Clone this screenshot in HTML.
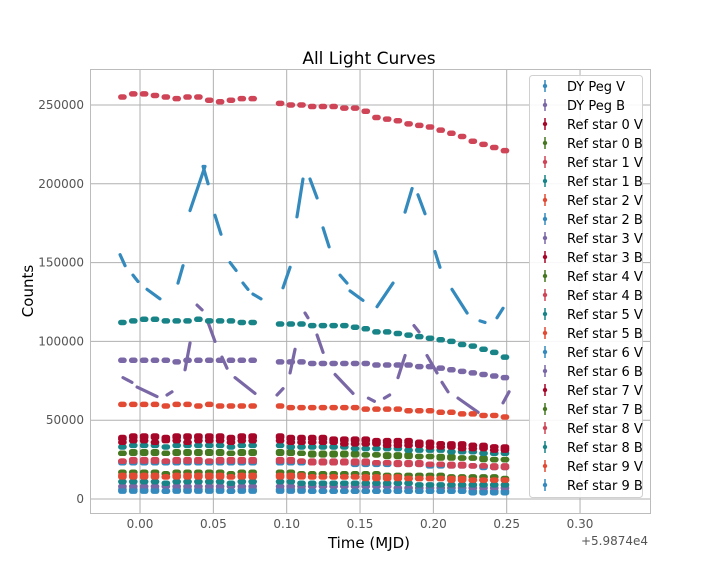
<!DOCTYPE html>
<html><head><meta charset="utf-8"><style>
html,body{margin:0;padding:0;background:#fff;}
svg{display:block;font-family:"DejaVu Sans","Liberation Sans",sans-serif;}
</style></head><body>
<svg id="chart" width="720" height="576" viewBox="0 0 720 576">
<rect x="0" y="0" width="720" height="576" fill="#fff"/>
<text x="369" y="64" text-anchor="middle" font-size="17" fill="#000">All Light Curves</text>
<g id="grid"></g>
<g id="marks"></g>
<rect x="90.5" y="69.5" width="560" height="444" fill="none" stroke="#bcbcbc" stroke-width="1"/>
<g id="axes"></g>
<text x="369" y="548" text-anchor="middle" font-size="15" fill="#000">Time (MJD)</text>
<text x="648" y="545" text-anchor="end" font-size="12" fill="#555">+5.9874e4</text>
<text transform="translate(33,291) rotate(-90)" text-anchor="middle" font-size="15" fill="#000">Counts</text>
<g id="legend"></g>
</svg>
<script>
const xTicks = [0.00, 0.05, 0.10, 0.15, 0.20, 0.25, 0.30];
const xTickLabels = ["0.00","0.05","0.10","0.15","0.20","0.25","0.30"];
const yTicks = [0, 50000, 100000, 150000, 200000, 250000];
const yTickLabels = ["0","50000","100000","150000","200000","250000"];
const segTimes = [-0.012,-0.0046,0.0028,0.0102,0.0176,0.025,0.0324,0.0398,0.0472,0.0546,0.062,0.0694,0.0768,
 0.0955,0.1028,0.1101,0.1174,0.1247,0.132,0.1393,0.1466,0.1539,0.1612,0.1685,0.1758,0.1831,0.1904,0.1977,0.205,0.2123,0.2196,0.2269,0.2342,0.2415,0.2488];
const seriesNames = ["DY Peg V","DY Peg B","Ref star 0 V","Ref star 0 B","Ref star 1 V","Ref star 1 B","Ref star 2 V","Ref star 2 B","Ref star 3 V","Ref star 3 B","Ref star 4 V","Ref star 4 B","Ref star 5 V","Ref star 5 B","Ref star 6 V","Ref star 6 B","Ref star 7 V","Ref star 7 B","Ref star 8 V","Ref star 8 B","Ref star 9 V","Ref star 9 B"];
const palette = ["#348ABD","#7A68A6","#A60628","#467821","#CF4457","#188487","#E24A33"];
// DY Peg V segments (start time, end time, start counts k, end counts k)
const dyVt0 = [-0.0136,-0.0048,0.0048,0.0259,0.0341,0.043,0.0511,0.0614,0.0702,0.077,0.0975,0.107,0.1159,0.1248,0.1364,0.1432,0.1616,0.1807,0.1895,0.2011,0.2127,0.2318,0.2434];
const dyVt1 = [-0.0102,-0.0014,0.0136,0.0293,0.0443,0.0464,0.0552,0.0655,0.0736,0.0825,0.1023,0.1111,0.1207,0.1289,0.1411,0.152,0.1725,0.1855,0.1943,0.2045,0.223,0.2352,0.2475];
const dyVv0 = [155,142,133,137,183,211,180,150,137,130,134,179,203,172,142,132,122,182,193,157,133,113,115];
const dyVv1 = [148,138,127,148,211,200,168,145,133,127,147,203,191,160,137,126,137,197,181,147,118,112,121];
// DY Peg B segments
const dyBt0 = [-0.0116,-0.0020,0.0184,0.0307,0.0389,0.0464,0.0559,0.0648,0.0934,0.1023,0.1125,0.1207,0.1330,0.1557,0.1666,0.1759,0.1868,0.1957,0.2059,0.2168,0.2475];
const dyBt1 = [-0.0055,0.0116,0.0218,0.0341,0.0423,0.0511,0.0593,0.0784,0.0975,0.1057,0.1145,0.1248,0.1452,0.1598,0.1702,0.1807,0.1902,0.2025,0.2100,0.2305,0.2516];
const dyBv0 = [77,71,66,82,123,112,90,77,66,80,118,104,79,64,64,77,110,91,74,64,61];
const dyBv1 = [74,65,68,99,120,100,83,67,70,95,115,93,67,62,66,91,106,80,68,55,68];
// Reference stars: one value (thousands of counts) per segment
const r0V = [39,40,40,40,39,40,40,40,40,40,39,40,40, 40,39,39,39,39,38,38,38,38,37,37,37,37,36,36,35,35,35,34,34,33,33];
const r0B = [29,30,30,30,29,30,30,30,30,30,29,30,30, 30,30,29,29,29,29,29,29,28,28,28,28,28,27,27,27,27,26,26,26,25,25];
const r1V = [255,257,257,256,255,254,255,255,253,252,253,254,254, 251,250,250,249,249,249,248,248,246,242,241,240,238,237,236,234,232,230,227,225,223,221];
const r1B = [112,113,114,114,113,113,113,114,113,113,113,112,112, 111,111,111,110,110,110,110,109,108,106,106,105,104,103,102,101,100,98,97,95,93,90];
const r2V = [60,60,60,60,59,60,60,59,60,59,59,59,59, 59,58,58,58,58,58,58,58,57,57,57,57,56,56,56,55,55,54,54,53,53,52];
const r2B = [23,23,23,23,23,23,23,23,23,23,23,23,23, 23,23,23,23,23,23,23,22,22,22,22,22,22,22,21,21,21,21,21,20,20,20];
const r3V = [88,88,88,88,88,87,88,88,88,88,88,88,88, 87,87,87,86,86,86,86,86,86,85,85,85,85,84,84,83,82,81,80,79,78,77];
const r3B = [38,39,39,39,38,39,39,39,39,39,38,39,39, 39,38,38,38,38,37,37,37,37,36,36,36,36,35,35,35,34,34,34,33,33,32];
const r4V = [17,17,17,17,16,17,17,17,17,17,16,17,17, 17,17,16,16,16,16,16,16,16,16,15,15,15,15,15,15,14,14,14,14,14,13];
const r4B = [24,25,25,25,24,25,25,25,24,25,25,25,25, 25,25,24,24,24,24,24,24,24,23,23,23,23,23,22,22,22,22,21,21,21,21];
const r5V = [33,34,34,34,33,34,34,34,34,34,33,34,34, 34,33,33,33,33,33,33,32,32,32,32,32,31,31,31,31,30,30,30,29,29,29];
const r5B = [15,15,15,15,14,15,15,15,15,15,14,15,15, 15,15,15,14,14,14,14,14,14,14,14,14,13,13,13,13,13,13,12,12,12,12];
const r6V = [6,6,6,6,5,6,6,6,6,6,5,6,6, 6,6,6,5,5,5,5,5,5,5,5,5,5,5,5,5,5,5,5,5,5,5];
const r6B = [8,8,8,8,8,8,8,8,8,8,8,8,8, 8,8,8,8,8,8,8,8,8,8,8,7,7,7,7,7,7,7,7,7,7,7];
const r7V = [36,37,37,36,37,37,36,37,37,37,36,37,37, 37,36,36,36,36,36,35,35,35,35,34,34,34,34,33,33,33,32,32,32,31,31];
const r7B = [29,29,29,29,29,29,29,29,29,29,29,29,29, 29,29,29,28,28,28,28,28,28,28,27,27,27,27,27,26,26,26,26,25,25,25];
const r8V = [24,24,24,24,24,24,24,24,24,24,24,24,24, 24,24,24,23,23,23,23,23,23,23,23,22,22,22,22,22,21,21,21,21,20,20];
const r8B = [11,11,11,11,10,11,11,11,11,11,10,11,11, 11,11,10,10,10,10,10,10,10,10,10,10,10,9,9,9,9,9,9,9,9,9];
const r9V = [14,14,14,14,14,14,14,14,14,14,14,14,14, 14,14,14,14,14,14,14,14,13,13,13,13,13,13,13,13,12,12,12,12,12,12];
const r9B = [5,5,5,5,5,5,5,5,5,5,5,5,5, 5,5,5,5,5,5,5,5,5,5,5,5,5,5,5,5,5,5,4,4,4,4];

const NS = "http://www.w3.org/2000/svg";
const X0 = 90, X1 = 650, Y0 = 513, Y1 = 69;
const xMin = -0.0341, xMax = 0.3477, yMin = -8880, yMax = 272800;
function xs(t){ return X0 + (t - xMin) / (xMax - xMin) * (X1 - X0); }
function ys(v){ return Y0 - (v - yMin) / (yMax - yMin) * (Y0 - Y1); }
function mk(tag, attrs, parent){ const e = document.createElementNS(NS, tag); for (const k in attrs) e.setAttribute(k, attrs[k]); parent.appendChild(e); return e; }

const grid = document.getElementById('grid');
const axes = document.getElementById('axes');
xTicks.forEach((t, i) => {
  const gl = mk('line', {x1: xs(t), x2: xs(t), y1: Y1, y2: Y0, stroke: '#b0b0b0', 'stroke-width': 1}, grid);
  
  
  const tl = mk('text', {x: xs(t), y: 528, 'text-anchor': 'middle', 'font-size': 12, fill: '#555'}, axes);
  tl.textContent = xTickLabels[i];
  
  
});
yTicks.forEach((v, i) => {
  const gl = mk('line', {x1: X0, x2: X1, y1: ys(v), y2: ys(v), stroke: '#b0b0b0', 'stroke-width': 1}, grid);
  
  
  const tl = mk('text', {x: 84, y: ys(v) + 4, 'text-anchor': 'end', 'font-size': 12, fill: '#555'}, axes);
  tl.textContent = yTickLabels[i];
  
  
});

const marks = document.getElementById('marks');
function drawSegs(t0, t1, v0, v1, color, name){
  const g = mk('g', {}, marks);
  
  
  for (let i = 0; i < t0.length; i++){
    const l = mk('line', {x1: xs(t0[i]), y1: ys(v0[i]*1000), x2: xs(t1[i]), y2: ys(v1[i]*1000), stroke: color, 'stroke-width': 3.2, 'stroke-linecap': 'round'}, g);
    
    
  }
}
function drawFlat(vals, color, name){
  const g = mk('g', {}, marks);
  
  
  vals.forEach((v, i) => {
    const l = mk('line', {x1: xs(segTimes[i] - 0.0011), x2: xs(segTimes[i] + 0.0011), y1: ys(v*1000), y2: ys(v*1000), stroke: color, 'stroke-width': 5.5, 'stroke-linecap': 'round'}, g);
    
    
  });
}
const refs = [r0V,r0B,r1V,r1B,r2V,r2B,r3V,r3B,r4V,r4B,r5V,r5B,r6V,r6B,r7V,r7B,r8V,r8B,r9V,r9B];
drawSegs(dyVt0, dyVt1, dyVv0, dyVv1, palette[0], 'series-dy-peg-v');
drawSegs(dyBt0, dyBt1, dyBv0, dyBv1, palette[1], 'series-dy-peg-b');
refs.forEach((arr, k) => {
  drawFlat(arr, palette[(k + 2) % 7], 'series-' + seriesNames[k + 2].toLowerCase().replace(/ /g, '-'));
});

const leg = document.getElementById('legend');
const box = mk('rect', {x: 529.5, y: 75.5, width: 113, height: 422, rx: 3, fill: '#fff', 'fill-opacity': 0.9, stroke: '#d0d0d0'}, leg);


seriesNames.forEach((n, i) => {
  const y = 86 + i * 19;
  const c = palette[i % 7];
  const g = mk('g', {}, leg);
  
  
  mk('line', {x1: 545, x2: 545, y1: y - 6, y2: y + 6, stroke: c, 'stroke-width': 1.5}, g);
  mk('circle', {cx: 545, cy: y, r: 2.2, fill: c}, g);
  const t = mk('text', {x: 567, y: y + 5, 'font-size': 13, fill: '#000'}, g);
  t.textContent = n;
});
</script>
</body></html>
